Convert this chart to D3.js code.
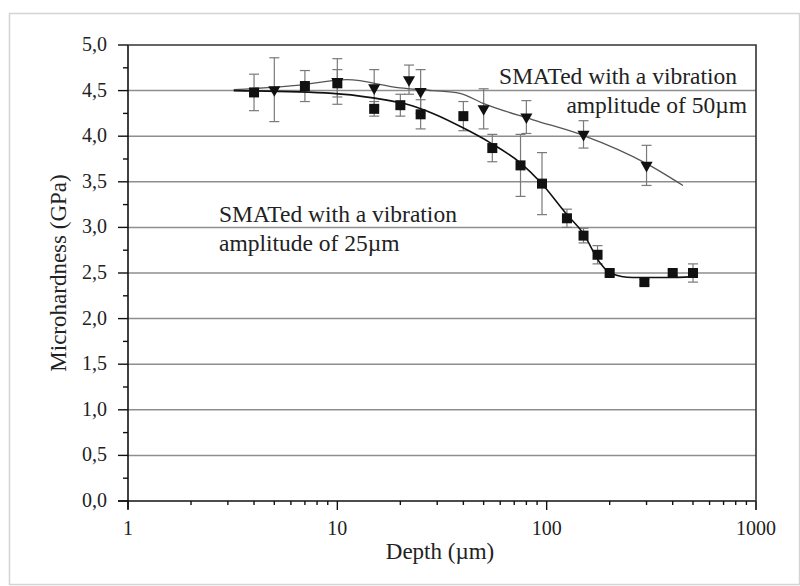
<!DOCTYPE html>
<html>
<head>
<meta charset="utf-8">
<script src="https://cdnjs.cloudflare.com/ajax/libs/d3/7.8.5/d3.min.js"></script>
<style>
  body { margin: 0; background: #fff; }
  svg text { font-family: 'Liberation Serif', 'DejaVu Serif', serif; fill: #222; }
</style>
</head>
<body>
<div class="chart"></div>
<script>
// measured points, 25um amplitude (squares)
var depth25 = [4, 7, 10, 15, 20, 25, 40, 55, 75, 95, 125, 150, 175, 200, 293, 400, 500];
var hard25  = [4.48, 4.55, 4.58, 4.30, 4.34, 4.24, 4.22, 3.87, 3.68, 3.48, 3.10, 2.91, 2.70, 2.50, 2.40, 2.50, 2.50];
var err25   = [0.20, 0.17, 0.15, 0.08, 0.12, 0.16, 0.16, 0.15, 0.34, 0.34, 0.10, 0.08, 0.10, 0.03, 0.03, 0.03, 0.10];

// measured points, 50um amplitude (triangles)
var depth50 = [5, 10, 15, 22, 25, 50, 80, 150, 300];
var hard50  = [4.51, 4.60, 4.53, 4.62, 4.49, 4.30, 4.21, 4.02, 3.68];
var err50   = [0.35, 0.25, 0.20, 0.16, 0.24, 0.22, 0.18, 0.15, 0.22];

// fitted curves
var fitDepth25 = [3.2, 9.5, 14.8, 21.5, 28.6, 41.6, 53.6, 74.6, 93, 125, 149, 180, 201, 258, 376, 500];
var fitHard25  = [4.50, 4.47, 4.42, 4.35, 4.25, 4.07, 3.93, 3.71, 3.50, 3.14, 2.94, 2.61, 2.50, 2.45, 2.45, 2.46];
var fitDepth50 = [3.2, 6.6, 11.1, 19.9, 28.6, 38.5, 49.7, 86, 149, 300, 448];
var fitHard50  = [4.51, 4.56, 4.62, 4.53, 4.50, 4.47, 4.36, 4.18, 4.01, 3.70, 3.46];

var yTicks = [0, 0.5, 1, 1.5, 2, 2.5, 3, 3.5, 4, 4.5, 5];
var xTicks = [1, 10, 100, 1000];

var width = 800, height = 586;
var plotLeft = 128, plotRight = 756, plotTop = 45, plotBottom = 501;

var svg = d3.select('.chart').append('svg')
  .attr('width', width)
  .attr('height', height)
  .attr('font-family', "'Liberation Serif', 'DejaVu Serif', serif");

// light outer frame
svg.append('rect')
  .attr('x', 9.5).attr('y', 13.5)
  .attr('width', 790).attr('height', 571)
  .attr('fill', 'none')
  .attr('stroke', '#d4d4d4')
  .attr('stroke-width', 1.5);

var x = d3.scaleLog().domain([1, 1000]).range([plotLeft, plotRight]);
var y = d3.scaleLinear().domain([0, 5]).range([plotBottom, plotTop]);

function zip(a, b, c) {
  return a.map(function(d, i) { return {d: d, v: b[i], e: c ? c[i] : 0}; });
}
var pts25 = zip(depth25, hard25, err25),
    pts50 = zip(depth50, hard50, err50);

// gridlines
svg.append('g').attr('class', 'grid')
  .selectAll('line')
  .data(yTicks.filter(function(t) { return t > 0 && t < 5; }))
  .enter().append('line')
  .attr('x1', plotLeft).attr('x2', plotRight)
  .attr('y1', y).attr('y2', y)
  .attr('stroke', '#8e8e8e')
  .attr('stroke-width', 1.5);

// error bars
function drawErrors(data) {
  var g = svg.append('g').attr('class', 'errors')
    .attr('stroke', '#7a7a7a')
    .attr('stroke-width', 1.2);
  var bars = g.selectAll('g').data(data).enter().append('g');
  bars.append('line')
    .attr('x1', function(p) { return x(p.d); })
    .attr('x2', function(p) { return x(p.d); })
    .attr('y1', function(p) { return y(p.v - p.e); })
    .attr('y2', function(p) { return y(p.v + p.e); });
  [-1, 1].forEach(function(s) {
    bars.append('line')
      .attr('x1', function(p) { return x(p.d) - 5; })
      .attr('x2', function(p) { return x(p.d) + 5; })
      .attr('y1', function(p) { return y(p.v + s * p.e); })
      .attr('y2', function(p) { return y(p.v + s * p.e); });
  });
}
drawErrors(pts50);
drawErrors(pts25);

// fitted curves
var line = d3.line()
  .x(function(p) { return x(p.d); })
  .y(function(p) { return y(p.v); })
  .curve(d3.curveMonotoneX);

svg.append('path')
  .datum(zip(fitDepth50, fitHard50))
  .attr('d', line)
  .attr('fill', 'none')
  .attr('stroke', '#555')
  .attr('stroke-width', 1.3);

svg.append('path')
  .datum(zip(fitDepth25, fitHard25))
  .attr('d', line)
  .attr('fill', 'none')
  .attr('stroke', '#111')
  .attr('stroke-width', 1.6);

// markers
svg.append('g').selectAll('rect')
  .data(pts25)
  .enter().append('rect')
  .attr('x', function(p) { return x(p.d) - 5; })
  .attr('y', function(p) { return y(p.v) - 5; })
  .attr('width', 10).attr('height', 10)
  .attr('fill', '#111');

var tri = d3.symbol().type(d3.symbolTriangle).size(64);
svg.append('g').selectAll('path')
  .data(pts50)
  .enter().append('path')
  .attr('d', tri)
  .attr('transform', function(p) {
    return 'translate(' + x(p.d) + ',' + y(p.v) + ') rotate(180)';
  })
  .attr('fill', '#111');

// y axis
var yAxis = svg.append('g').attr('class', 'y-axis');
yAxis.append('line')
  .attr('x1', plotLeft).attr('x2', plotLeft)
  .attr('y1', plotTop).attr('y2', plotBottom + 8)
  .attr('stroke', '#111').attr('stroke-width', 1.6);
yAxis.selectAll('.major').data(yTicks).enter().append('line')
  .attr('x1', plotLeft - 10).attr('x2', plotLeft)
  .attr('y1', y).attr('y2', y)
  .attr('stroke', '#111').attr('stroke-width', 1.4);
yAxis.selectAll('.minor').data(d3.range(0.25, 5, 0.5)).enter().append('line')
  .attr('x1', plotLeft - 5).attr('x2', plotLeft)
  .attr('y1', y).attr('y2', y)
  .attr('stroke', '#111').attr('stroke-width', 1.4);
yAxis.selectAll('text').data(yTicks).enter().append('text')
  .attr('x', plotLeft - 21)
  .attr('y', function(t) { return y(t) + 6; })
  .attr('text-anchor', 'end')
  .style('font-size', '20px')
  .text(function(t) { return d3.format('.1f')(t).replace('.', ','); });

// x axis
var xAxis = svg.append('g').attr('class', 'x-axis');
xAxis.append('line')
  .attr('x1', plotLeft - 10).attr('x2', plotRight)
  .attr('y1', plotBottom).attr('y2', plotBottom)
  .attr('stroke', '#111').attr('stroke-width', 1.6);
xAxis.selectAll('.major').data(xTicks).enter().append('line')
  .attr('x1', x).attr('x2', x)
  .attr('y1', plotBottom).attr('y2', plotBottom + 9)
  .attr('stroke', '#111').attr('stroke-width', 1.4);
var minors = [];
[1, 10, 100].forEach(function(dec) {
  d3.range(2, 10).forEach(function(k) { minors.push(dec * k); });
});
xAxis.selectAll('.minor').data(minors).enter().append('line')
  .attr('x1', x).attr('x2', x)
  .attr('y1', plotBottom).attr('y2', plotBottom + 4)
  .attr('stroke', '#111').attr('stroke-width', 1.4);
xAxis.selectAll('text').data(xTicks).enter().append('text')
  .attr('x', x)
  .attr('y', plotBottom + 34)
  .attr('text-anchor', 'middle')
  .style('font-size', '20px')
  .text(function(t) { return t; });

// plot border (top, right)
svg.append('path')
  .attr('d', 'M' + plotLeft + ',' + plotTop + 'H' + plotRight + 'V' + (plotBottom + 9))
  .attr('fill', 'none')
  .attr('stroke', '#333')
  .attr('stroke-width', 1.6);

// titles
svg.append('text')
  .attr('x', 440)
  .attr('y', 559)
  .attr('text-anchor', 'middle')
  .style('font-size', '23px')
  .text('Depth (\u00b5m)');

svg.append('text')
  .attr('transform', 'translate(66,' + ((plotTop + plotBottom) / 2) + ') rotate(-90)')
  .attr('text-anchor', 'middle')
  .style('font-size', '23px')
  .text('Microhardness (GPa)');

// annotations
svg.append('text')
  .attr('x', 737).attr('y', 84)
  .attr('text-anchor', 'end')
  .style('font-size', '23.5px')
  .text('SMATed with a vibration');
svg.append('text')
  .attr('x', 747).attr('y', 113)
  .attr('text-anchor', 'end')
  .style('font-size', '23.5px')
  .text('amplitude of 50\u00b5m');

svg.append('text')
  .attr('x', 219).attr('y', 222)
  .style('font-size', '23.5px')
  .text('SMATed with a vibration');
svg.append('text')
  .attr('x', 219).attr('y', 251)
  .style('font-size', '23.5px')
  .text('amplitude of 25\u00b5m');
</script>
</body>
</html>
